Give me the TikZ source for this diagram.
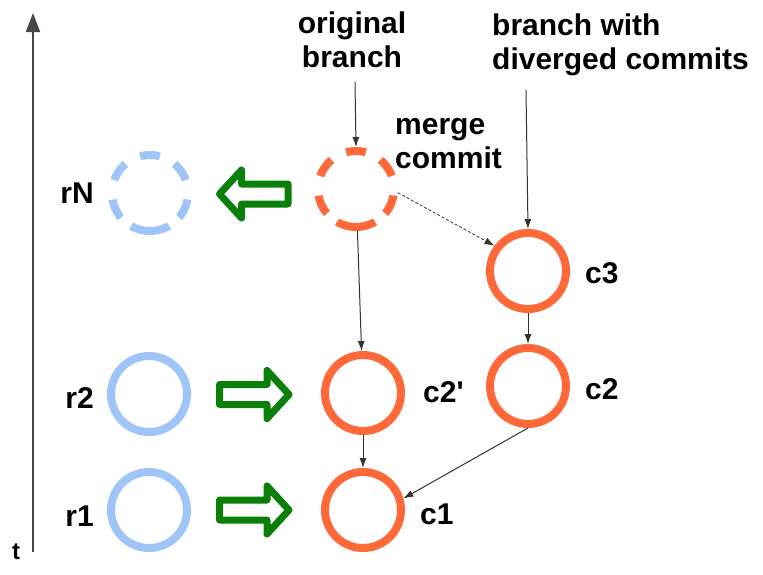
\documentclass[tikz,border=0pt]{standalone}
\usepackage{fontspec}
\setmainfont{Liberation Sans}
\usetikzlibrary{arrows.meta}
\definecolor{cor}{RGB}{255,104,56}
\definecolor{cblue}{RGB}{159,197,248}
\definecolor{cgreen}{RGB}{10,128,10}
\definecolor{cline}{RGB}{51,51,51}
\tikzset{
  commit/.style={circle, draw=cor, line width=8pt, minimum size=76pt, inner sep=0pt},
  rcommit/.style={circle, draw=cblue, line width=8pt, minimum size=76pt, inner sep=0pt},
  dashring/.style={dash pattern=on 0pt off 13.26pt on 19.9pt off 16.58pt on 19.9pt off 16.58pt on 19.9pt off 19.9pt on 19.9pt off 13.26pt on 39.8pt off 13.26pt on 19.9pt off 6.63pt},
  lbl/.style={font=\fontsize{30}{34}\selectfont\bfseries, inner sep=0pt},
  conn/.style={draw=cline, line width=1pt, -{Latex[length=10pt,width=7pt]}},
  dconn/.style={draw=cline, line width=0.8pt, dash pattern=on 3pt off 2pt, -{Latex[length=10pt,width=7pt]}},
  bigarrow/.style={draw=cgreen, line width=7pt, line join=round, fill=white},
  axis/.style={draw=cline!90, line width=2pt, -{Triangle[length=19pt,width=14pt]}}
}
\begin{document}
\begin{tikzpicture}[x=1pt,y=-1pt]
\useasboundingbox[fill=white] (0,0) rectangle (763,574);
% time axis
\coordinate (t0) at (33,552);
\coordinate (t1) at (33,13);
\draw[axis] (t0) -- (t1);
\node[lbl, font=\fontsize{24}{28}\selectfont\bfseries] (tl) at (16,552) {t};
% commits
\node[rcommit, dashring] (rN) at (150,193) {};
\node[rcommit] (r2) at (149,394) {};
\node[rcommit] (r1) at (149,510) {};
\node[commit, dashring] (m) at (356,189) {};
\node[commit] (c2p) at (363,393) {};
\node[commit] (c1) at (363,510) {};
\node[commit] (c3) at (528,271) {};
\node[commit] (c2) at (528,386) {};
% labels
\node[lbl, anchor=east] (lrN) at (94,193) {rN};
\node[lbl, anchor=east] (lr2) at (94,398) {r2};
\node[lbl, anchor=east] (lr1) at (94,516) {r1};
\node[lbl, anchor=west] (lc2p) at (423,392) {c2\textquotesingle};
\node[lbl, anchor=west] (lc1) at (420,514) {c1};
\node[lbl, anchor=west] (lc3) at (585,273) {c3};
\node[lbl, anchor=west] (lc2) at (585,389) {c2};
\node[lbl, align=center, anchor=base] (orig) at (352,67) {original\\branch};
\node[lbl, align=left, anchor=base west] (div) at (492,69) {branch with\\diverged commits};
\node[lbl, align=left, anchor=base west] (mc) at (395,168) {merge\\commit};
% green arrows
\draw[bigarrow] (219.5,194) -- (241.5,170) -- (241.5,184) -- (288,184) -- (288,204) -- (241.5,204) -- (241.5,218) -- cycle;
\draw[bigarrow] (219.5,384.5) -- (267,384.5) -- (267,370.5) -- (289,394.5) -- (267,418.5) -- (267,404.5) -- (219.5,404.5) -- cycle;
\draw[bigarrow] (219.5,500) -- (267,500) -- (267,486) -- (289,510) -- (267,534) -- (267,520) -- (219.5,520) -- cycle;
% connectors
\coordinate (oa) at (355,82);
\coordinate (da) at (526,90);
\draw[conn] (oa) -- (m.north);
\draw[conn] (da) -- (c3.north);
\draw[conn] (m) -- (c2p);
\draw[conn] (c3) -- (c2);
\draw[conn] (c2p) -- (c1);
\draw[conn] (c2.south) -- (c1.16);
\draw[dconn] (m.-5) -- (c3.143);
\end{tikzpicture}
\end{document}
